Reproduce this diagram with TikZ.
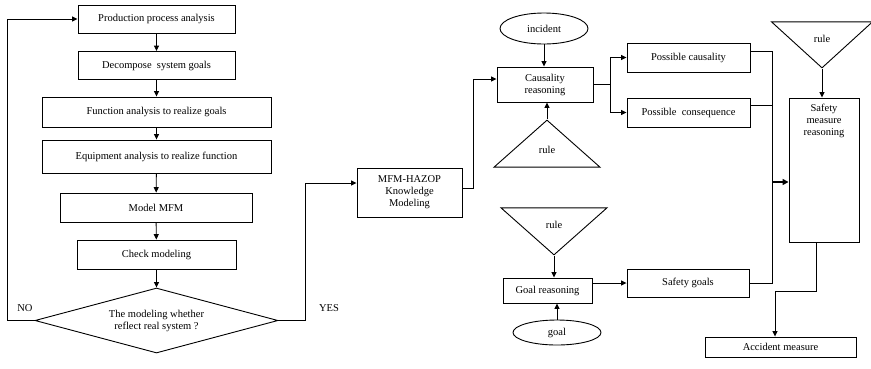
\documentclass[tikz,border=0pt]{standalone}
\usepackage{fontspec}
\setmainfont{Liberation Serif}
\usetikzlibrary{arrows.meta, positioning, shapes.geometric, calc}
\tikzset{
  every picture/.style={line width=0.9pt},
  box/.style={draw, rectangle, align=center, inner sep=2pt},
  oval/.style={draw, ellipse, inner sep=0pt},
  tri/.style={draw, isosceles triangle, isosceles triangle stretches, inner sep=0pt},
  arrow/.style={-{Triangle[length=5.5pt, width=5pt]}},
  bigarrow/.style={-{Triangle[length=6pt, width=6pt]}, line width=1.8pt},
  note/.style={align=center},
}

\begin{document}
\begin{tikzpicture}[x=1pt, y=-1pt, every node/.append style={font=\fontsize{10.5}{12}\selectfont}]
  \useasboundingbox (0,0) rectangle (871,368);
  % modeling loop
  \node[box, minimum width=157, minimum height=28] (prod) at (156.5,19) {Production process analysis};
  \node[box, minimum width=157, minimum height=28] (decomp) at (156.5,65.5) {Decompose \ system goals};
  \node[box, minimum width=229, minimum height=30] (func) at (156.5,112) {Function analysis to realize goals};
  \node[box, minimum width=229, minimum height=33] (equip) at (156.5,156.5) {Equipment analysis to realize function};
  \node[box, minimum width=192, minimum height=29] (model) at (156,207.5) {Model MFM};
  \node[box, minimum width=159, minimum height=29] (check) at (156.5,254.5) {Check modeling};
  \node[draw, diamond, aspect=3.7, inner sep=0pt, minimum width=243, minimum height=65, align=center] (real) at (156.5,320.5) {The modeling whether\\reflect real system ?};
  \node (no) at (25,308) {NO};
  \node (yes) at (329,308) {YES};
  \draw[arrow] (prod) -- (decomp);
  \draw[arrow] (decomp) -- (func);
  \draw[arrow] (func) -- (equip);
  \draw[arrow] (equip) -- (model);
  \draw[arrow] (model) -- (check);
  \draw[arrow] (check) -- (real);
  \draw[arrow] (real.west) -- ++(-27,0) |- (prod.west);
  \node[box, minimum width=105, minimum height=49] (mfm) at (409.5,192.5) {MFM-HAZOP\\Knowledge\\Modeling};
  \draw[arrow] (real.east) -- ++(27,0) |- ([yshift=9.5pt]mfm.west);
  % causality reasoning
  \node[box, minimum width=96, minimum height=35] (cause) at (545,84.5) {Causality\\reasoning};
  \node[oval, minimum width=88, minimum height=31] (inc) at (544,28.5) {incident};
  \node[tri, shape border rotate=90, minimum width=106, minimum height=47, anchor=apex] (rule1) at (547,119) {rule};
  \draw[arrow] ([yshift=4.5pt]mfm.east) -- ++(11,0) |- ([yshift=5.5pt]cause.west);
  \draw[arrow] (inc) -- (inc |- cause.north);
  \draw[arrow] (rule1.apex) -- (rule1.apex |- cause.south);
  \node[box, minimum width=123, minimum height=29] (pcaus) at (688.5,57.5) {Possible causality};
  \node[box, minimum width=123, minimum height=29] (pcons) at (688.5,112.5) {Possible \ consequence};
  \coordinate (split) at ($(cause.east)+(17,0)$);
  \draw (cause.east) -- (split);
  \draw[arrow] (split) |- (pcaus.west);
  \draw[arrow] (split) |- (pcons.west);
  % goal reasoning
  \node[tri, shape border rotate=-90, minimum width=106, minimum height=47, anchor=apex] (rule3) at (554,256) {rule};
  \node[box, minimum width=89, minimum height=25] (gr) at (547.5,290.5) {Goal reasoning};
  \node[oval, minimum width=88, minimum height=25] (goal) at (557,332.5) {goal};
  \node[box, minimum width=122, minimum height=28] (sg) at (688,283) {Safety goals};
  \draw[arrow] (rule3.apex) -- (rule3.apex |- gr.north);
  \draw[arrow] (goal.north) -- (goal.north |- gr.south);
  \draw[arrow] (gr.east |- sg.west) -- (sg.west);
  % safety measure reasoning
  \node[tri, shape border rotate=-90, minimum width=101, minimum height=46, anchor=apex] (rule2) at (822,69) {rule};
  \node[box, minimum width=70, minimum height=144] (smr) at (824,170) {};
  \node[note, below=3pt of smr.north] (smrtext) {Safety\\measure\\reasoning};
  \node[box, minimum width=151, minimum height=20] (acc) at (780.5,347) {Accident measure};
  \coordinate (bus) at (772,283);
  \coordinate (mrg) at (772,182);
  \draw ([yshift=6.5pt]pcaus.east) -| (bus) -- (sg.east);
  \draw ([yshift=7pt]pcons.east) -- ([yshift=7pt]pcons.east -| bus);
  \draw[bigarrow] (mrg) -- (mrg -| smr.west);
  \draw[arrow] (rule2.apex) -- (rule2.apex |- smr.north);
  \draw[arrow] ([xshift=-8pt]smr.south) -- ++(0,49) -| ([xshift=-5.5pt]acc.north);
\end{tikzpicture}
\end{document}
